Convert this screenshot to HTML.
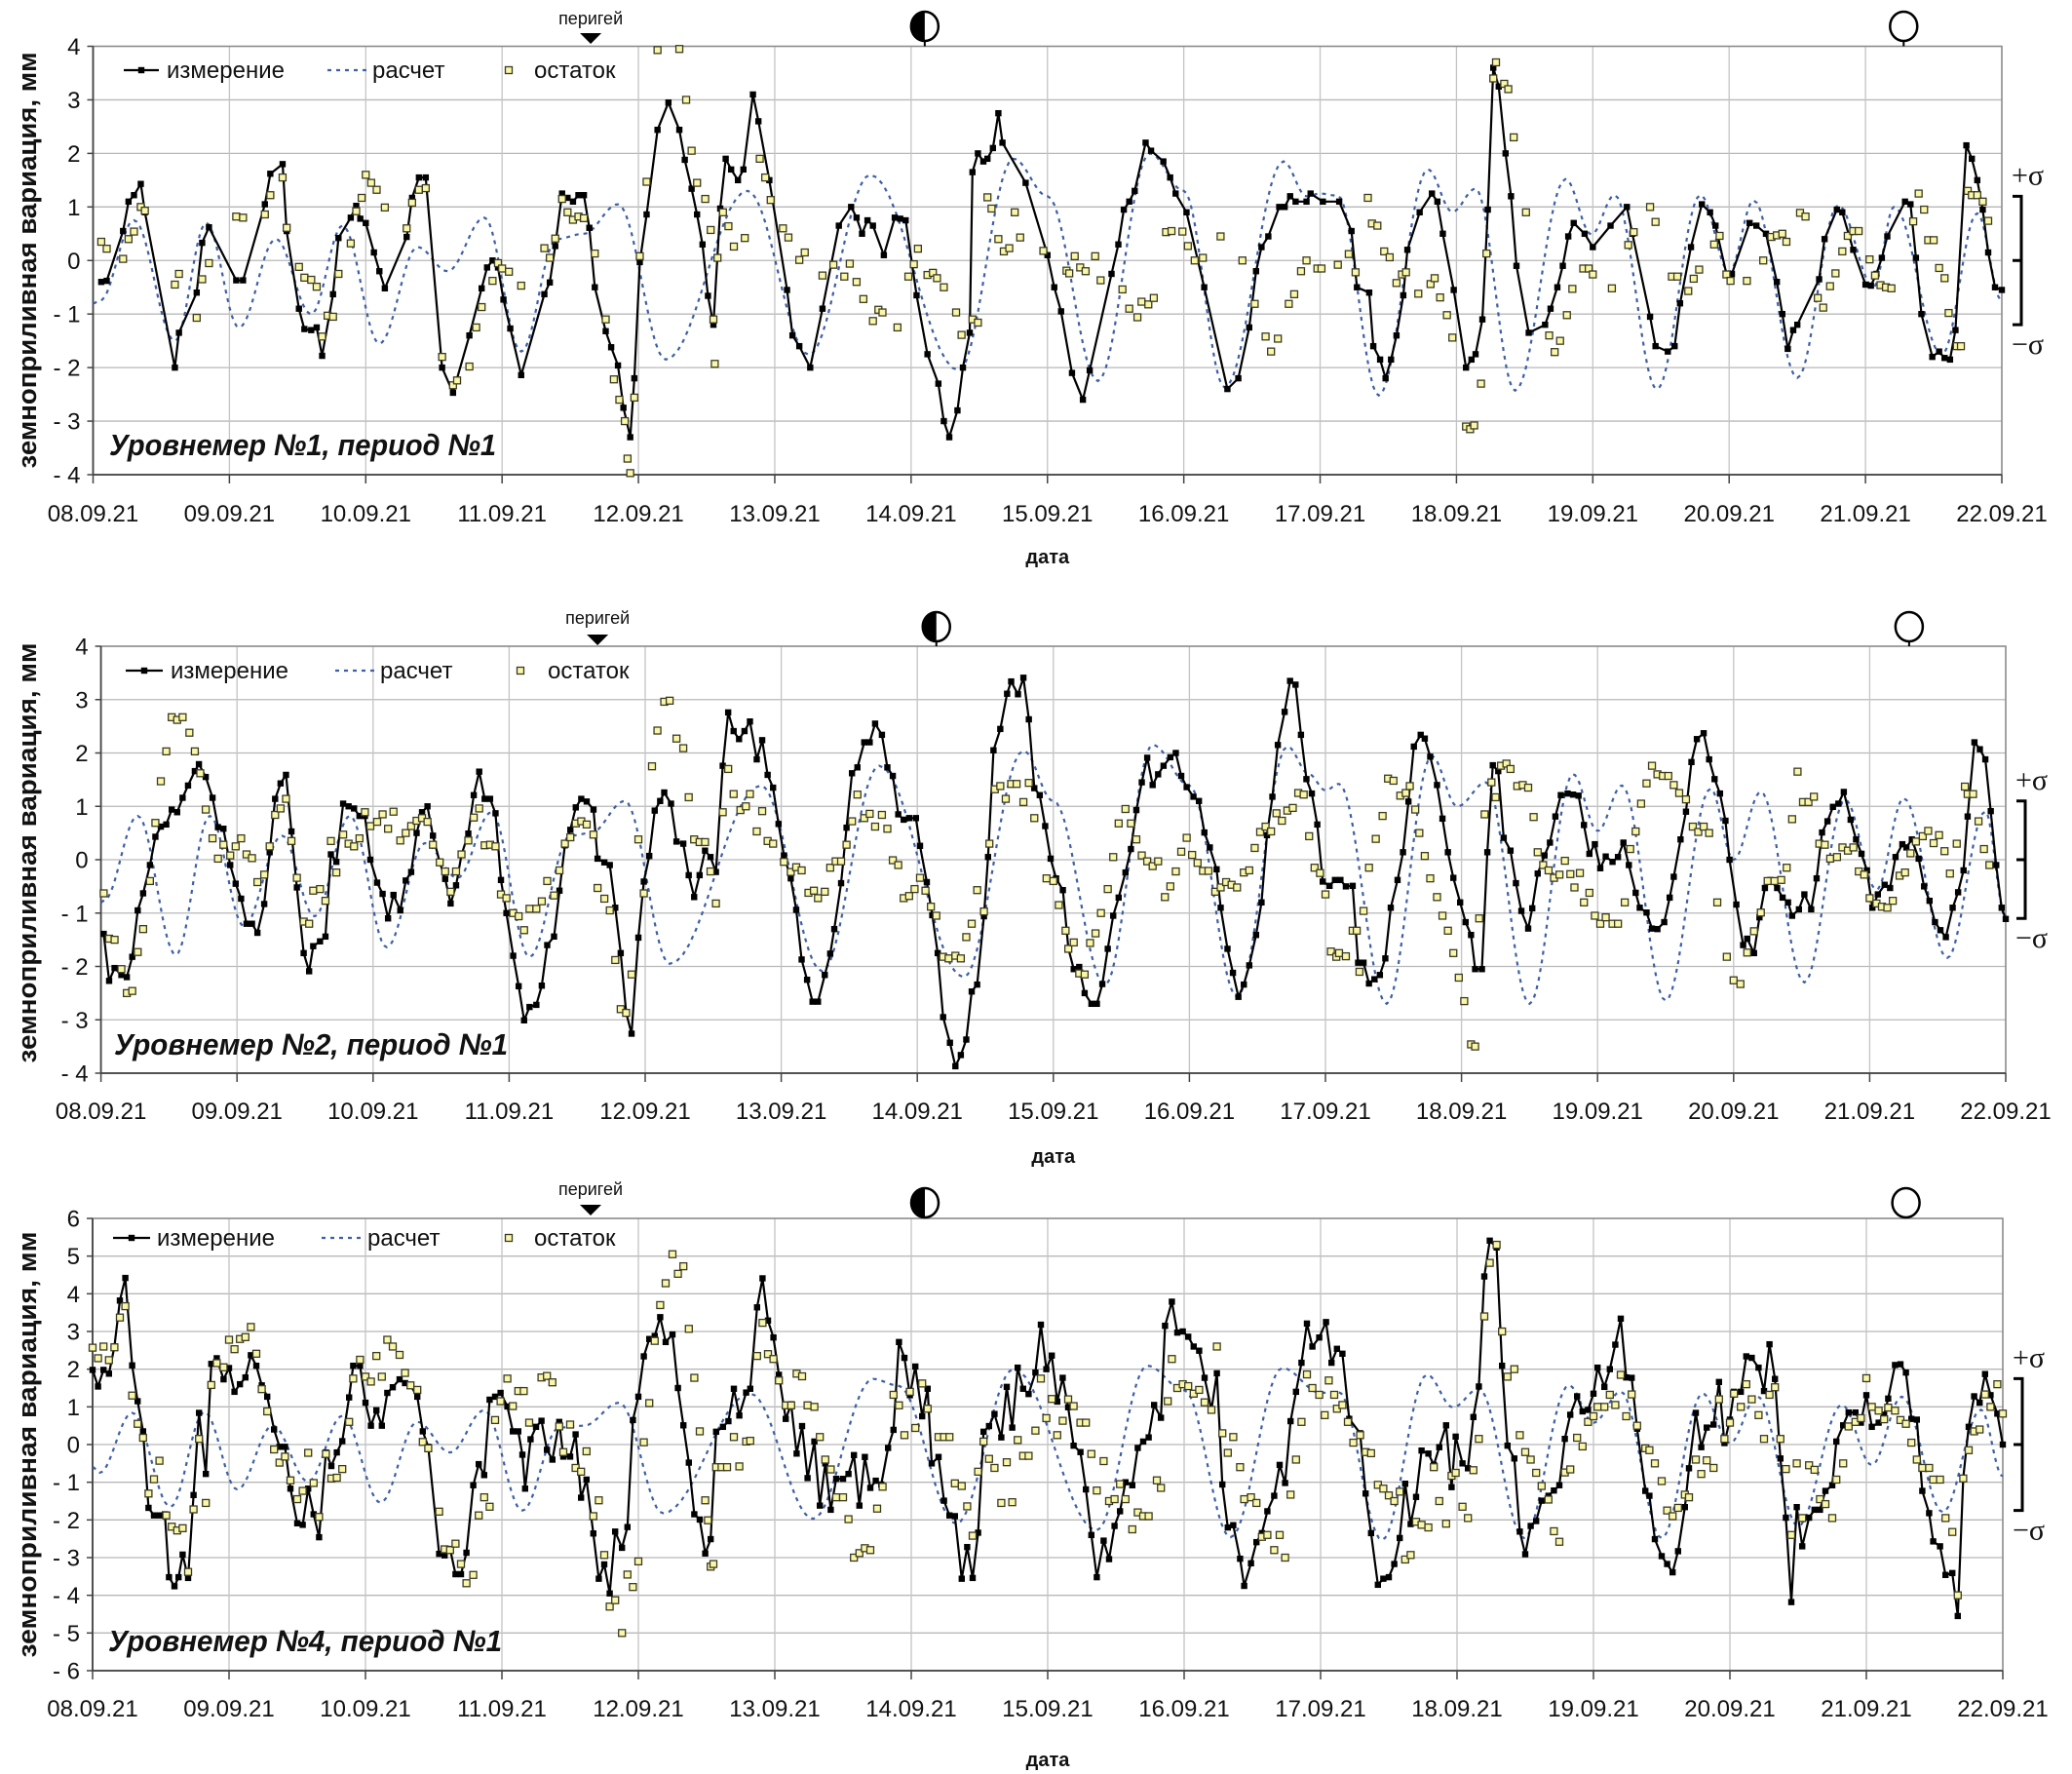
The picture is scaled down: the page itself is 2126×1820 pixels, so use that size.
<!DOCTYPE html>
<html><head><meta charset="utf-8"><style>
html,body{margin:0;padding:0;background:#fff;}
svg{display:block;}
text{font-family:"Liberation Sans","DejaVu Sans",sans-serif;}
</style></head>
<body>
<svg id="chart" xmlns="http://www.w3.org/2000/svg" width="2126" height="1820" viewBox="0 0 2126 1820">
<rect x="0" y="0" width="2126" height="1820" fill="#fff"/>
</svg>
<script>
// ===== DATA =====
const dateLabels = ["08.09.21","09.09.21","10.09.21","11.09.21","12.09.21","13.09.21","14.09.21","15.09.21","16.09.21","17.09.21","18.09.21","19.09.21","20.09.21","21.09.21","22.09.21"];
const panelTitles = ["Уровнемер №1, период №1","Уровнемер №2, период №1","Уровнемер №4, период №1"];
const legendLabels = ["измерение","расчет","остаток"];
const yTicks1 = [4,3,2,1,0,-1,-2,-3,-4];
const yTicks2 = [4,3,2,1,0,-1,-2,-3,-4];
const yTicks3 = [6,5,4,3,2,1,0,-1,-2,-3,-4,-5,-6];
const sigmaValues = [1.2,1.1,1.75];
const perigeeDay = [3.65,3.65,3.65];
const halfMoonDay = [6.1,6.14,6.1];
const fullMoonDay = [13.28,13.29,13.29];

const meas1 = [[0.06,-0.4],[0.1,-0.38],[0.22,0.55],[0.26,1.1],[0.3,1.22],[0.35,1.43],[0.38,0.9],[0.6,-2.0],[0.63,-1.35],[0.76,-0.6],[0.8,0.33],[0.85,0.62],[1.05,-0.37],[1.1,-0.37],[1.26,1.05],[1.3,1.62],[1.39,1.8],[1.42,0.55],[1.51,-0.9],[1.55,-1.28],[1.6,-1.3],[1.64,-1.25],[1.68,-1.78],[1.76,-0.63],[1.8,0.42],[1.89,0.8],[1.93,1.02],[1.96,0.78],[2.0,0.7],[2.06,0.15],[2.1,-0.2],[2.14,-0.52],[2.3,0.44],[2.34,1.17],[2.39,1.55],[2.44,1.55],[2.56,-2.0],[2.64,-2.47],[2.76,-1.4],[2.85,-0.52],[2.89,-0.13],[2.93,0],[2.97,-0.13],[3.01,-0.73],[3.06,-1.27],[3.14,-2.14],[3.31,-0.63],[3.35,-0.41],[3.39,0.27],[3.44,1.25],[3.48,1.17],[3.52,1.1],[3.56,1.22],[3.6,1.22],[3.64,0.61],[3.68,-0.5],[3.76,-1.32],[3.8,-1.62],[3.85,-1.96],[3.89,-2.75],[3.94,-3.3],[3.97,-2.2],[4.01,-0.03],[4.06,0.86],[4.14,2.44],[4.22,2.95],[4.3,2.44],[4.34,1.88],[4.39,1.34],[4.43,0.86],[4.47,0.3],[4.51,-0.66],[4.55,-1.2],[4.6,0.97],[4.64,1.9],[4.68,1.7],[4.73,1.5],[4.77,1.7],[4.84,3.1],[4.88,2.6],[4.96,1.5],[5.09,-0.55],[5.13,-1.4],[5.18,-1.6],[5.26,-2.0],[5.35,-0.9],[5.47,0.65],[5.56,1.0],[5.6,0.8],[5.64,0.5],[5.68,0.75],[5.72,0.65],[5.8,0.1],[5.88,0.8],[5.92,0.78],[5.96,0.75],[6.04,-0.65],[6.12,-1.75],[6.2,-2.3],[6.24,-3.0],[6.28,-3.3],[6.34,-2.8],[6.38,-2.0],[6.43,-1.35],[6.45,1.65],[6.49,2.0],[6.53,1.85],[6.56,1.9],[6.6,2.1],[6.64,2.75],[6.67,2.2],[6.84,1.45],[7.0,0.1],[7.05,-0.5],[7.1,-0.95],[7.18,-2.1],[7.26,-2.6],[7.31,-2.05],[7.47,-0.25],[7.52,0.3],[7.56,0.95],[7.6,1.1],[7.64,1.3],[7.72,2.2],[7.76,2.05],[7.85,1.85],[7.9,1.55],[7.94,1.25],[8.02,0.9],[8.15,-0.5],[8.32,-2.4],[8.4,-2.2],[8.48,-1.25],[8.53,-0.2],[8.57,0.25],[8.62,0.45],[8.7,1.0],[8.74,1.0],[8.78,1.2],[8.82,1.1],[8.9,1.1],[8.93,1.25],[9.02,1.1],[9.14,1.1],[9.23,0.55],[9.27,-0.5],[9.36,-0.6],[9.39,-1.6],[9.44,-1.85],[9.48,-2.2],[9.52,-1.85],[9.56,-1.4],[9.61,-0.65],[9.64,0.2],[9.73,0.9],[9.82,1.25],[9.86,1.1],[9.9,0.5],[9.98,-0.55],[10.07,-2.0],[10.11,-1.85],[10.14,-1.75],[10.19,-1.1],[10.23,0.95],[10.27,3.6],[10.31,3.25],[10.36,2.0],[10.4,1.2],[10.44,-0.1],[10.53,-1.35],[10.65,-1.2],[10.69,-0.9],[10.74,-0.5],[10.78,-0.1],[10.82,0.45],[10.86,0.7],[10.94,0.5],[11.0,0.25],[11.13,0.65],[11.25,1.0],[11.29,0.5],[11.42,-1.05],[11.46,-1.6],[11.55,-1.7],[11.6,-1.6],[11.64,-0.8],[11.72,0.25],[11.8,1.05],[11.86,0.9],[11.9,0.65],[11.98,-0.25],[12.02,-0.25],[12.15,0.7],[12.2,0.65],[12.27,0.5],[12.35,-0.4],[12.39,-1.0],[12.43,-1.65],[12.47,-1.3],[12.5,-1.2],[12.66,-0.35],[12.7,0.4],[12.79,0.95],[12.83,0.9],[12.91,0.2],[13.0,-0.45],[13.04,-0.47],[13.08,-0.25],[13.12,0.05],[13.16,0.45],[13.29,1.1],[13.33,1.05],[13.37,0.05],[13.41,-1.0],[13.49,-1.8],[13.54,-1.7],[13.58,-1.82],[13.62,-1.85],[13.66,-1.3],[13.74,2.15],[13.78,1.9],[13.82,1.5],[13.86,0.95],[13.9,0.15],[13.95,-0.5],[14.0,-0.55]];
const calc1 = [[0,-0.8],[0.05,-0.75],[0.3,0.75],[0.6,-1.5],[0.83,0.7],[1.07,-1.25],[1.34,0.4],[1.6,-1.0],[1.83,0.65],[2.1,-1.55],[2.38,0.25],[2.6,-0.2],[2.87,0.8],[3.14,-1.7],[3.4,0.4],[3.6,0.5],[3.85,1.05],[4.2,-1.85],[4.8,1.3],[5.25,-1.76],[5.7,1.6],[6.35,-2.05],[6.75,1.9],[7.0,1.2],[7.37,-2.25],[7.75,2.0],[8.0,1.3],[8.3,-2.37],[8.73,1.85],[8.9,1.2],[9.0,1.25],[9.13,1.21],[9.43,-2.52],[9.79,1.7],[9.97,0.91],[10.14,1.34],[10.43,-2.43],[10.8,1.52],[10.99,0.49],[11.16,1.22],[11.47,-2.4],[11.79,1.22],[12.0,-0.21],[12.18,1.12],[12.5,-2.19],[12.8,1.03],[13.06,-0.49],[13.21,1.0],[13.56,-1.76],[13.82,0.88],[14.0,-0.75]];
const resid1 = [[0.06,0.35],[0.1,0.22],[0.22,0.03],[0.26,0.4],[0.3,0.54],[0.35,1.0],[0.38,0.93],[0.6,-0.45],[0.63,-0.25],[0.76,-1.07],[0.8,-0.35],[0.85,-0.05],[1.05,0.82],[1.1,0.8],[1.26,0.86],[1.3,1.22],[1.39,1.55],[1.42,0.61],[1.51,-0.12],[1.55,-0.32],[1.6,-0.36],[1.64,-0.49],[1.68,-1.42],[1.72,-1.03],[1.76,-1.05],[1.8,-0.25],[1.89,0.32],[1.93,0.92],[1.97,1.17],[2.0,1.6],[2.04,1.45],[2.08,1.32],[2.14,0.99],[2.3,0.6],[2.34,1.08],[2.39,1.32],[2.44,1.35],[2.56,-1.8],[2.64,-2.33],[2.67,-2.24],[2.76,-1.98],[2.81,-1.25],[2.85,-0.87],[2.93,-0.38],[2.97,-0.05],[3.0,-0.15],[3.05,-0.21],[3.14,-0.47],[3.31,0.23],[3.35,0.05],[3.39,0.41],[3.44,1.15],[3.48,0.9],[3.52,0.76],[3.56,0.82],[3.6,0.79],[3.68,0.13],[3.76,-1.1],[3.82,-2.22],[3.86,-2.6],[3.9,-3.0],[3.92,-3.7],[3.94,-3.97],[3.97,-2.56],[4.01,0.08],[4.06,1.47],[4.14,3.93],[4.3,3.95],[4.35,3.0],[4.39,2.05],[4.43,1.45],[4.49,1.15],[4.53,0.57],[4.55,-1.1],[4.56,-1.93],[4.58,0.05],[4.62,0.9],[4.66,0.64],[4.7,0.26],[4.78,0.42],[4.89,1.9],[4.93,1.55],[4.97,1.13],[5.06,0.6],[5.1,0.43],[5.18,0.01],[5.22,0.15],[5.35,-0.28],[5.43,-0.08],[5.51,-0.3],[5.55,-0.06],[5.6,-0.4],[5.65,-0.72],[5.72,-1.13],[5.76,-0.92],[5.79,-0.97],[5.9,-1.25],[5.98,-0.3],[6.02,-0.07],[6.05,0.22],[6.12,-0.27],[6.16,-0.23],[6.19,-0.33],[6.24,-0.5],[6.33,-0.97],[6.37,-1.39],[6.45,-1.1],[6.49,-1.16],[6.56,1.18],[6.59,0.97],[6.64,0.4],[6.68,0.17],[6.72,0.23],[6.76,0.9],[6.8,0.43],[6.97,0.18],[7.14,-0.19],[7.16,-0.24],[7.2,0.08],[7.24,-0.13],[7.28,-0.2],[7.35,0.08],[7.39,-0.37],[7.55,-0.54],[7.6,-0.9],[7.66,-1.06],[7.69,-0.77],[7.74,-0.82],[7.78,-0.7],[7.87,0.53],[7.91,0.55],[7.99,0.54],[8.03,0.27],[8.08,0.0],[8.14,0.05],[8.27,0.45],[8.43,0.0],[8.52,-0.81],[8.6,-1.42],[8.64,-1.7],[8.69,-1.46],[8.77,-0.81],[8.81,-0.63],[8.86,-0.2],[8.9,0.0],[8.98,-0.15],[9.01,-0.15],[9.13,-0.08],[9.21,0.12],[9.26,-0.22],[9.35,1.17],[9.38,0.69],[9.42,0.65],[9.47,0.17],[9.51,0.06],[9.56,-0.42],[9.6,-0.26],[9.63,-0.22],[9.72,-0.62],[9.81,-0.44],[9.84,-0.33],[9.88,-0.69],[9.93,-1.02],[9.97,-1.44],[10.07,-3.1],[10.1,-3.15],[10.13,-3.08],[10.18,-2.3],[10.22,0.13],[10.27,3.4],[10.29,3.7],[10.35,3.3],[10.38,3.2],[10.42,2.3],[10.51,0.9],[10.68,-1.4],[10.72,-1.71],[10.76,-1.5],[10.81,-1.02],[10.85,-0.53],[10.93,-0.15],[10.97,-0.15],[11.0,-0.26],[11.14,-0.52],[11.26,0.29],[11.3,0.53],[11.42,1.0],[11.46,0.72],[11.58,-0.3],[11.62,-0.3],[11.7,-0.57],[11.74,-0.34],[11.78,-0.17],[11.89,0.3],[11.93,0.46],[11.98,-0.26],[12.01,-0.38],[12.13,-0.38],[12.25,0.0],[12.31,0.44],[12.35,0.47],[12.39,0.5],[12.42,0.35],[12.52,0.89],[12.56,0.82],[12.65,-0.7],[12.69,-0.88],[12.74,-0.48],[12.78,-0.24],[12.83,0.17],[12.87,0.46],[12.91,0.55],[12.95,0.55],[13.03,0.02],[13.07,-0.28],[13.11,-0.46],[13.15,-0.5],[13.19,-0.52],[13.35,0.73],[13.39,1.25],[13.43,0.95],[13.46,0.38],[13.5,0.38],[13.54,-0.14],[13.58,-0.33],[13.61,-0.98],[13.67,-1.6],[13.7,-1.6],[13.75,1.3],[13.78,1.22],[13.82,1.22],[13.86,1.1],[13.9,0.74]];

const meas2 = [[0.02,-1.39],[0.06,-2.27],[0.1,-2.03],[0.15,-2.16],[0.19,-2.2],[0.23,-1.82],[0.27,-0.95],[0.31,-0.63],[0.36,-0.1],[0.4,0.43],[0.44,0.62],[0.48,0.66],[0.52,0.94],[0.56,0.89],[0.6,1.16],[0.64,1.39],[0.69,1.66],[0.72,1.79],[0.77,1.55],[0.82,1.16],[0.86,0.61],[0.9,0.58],[0.95,-0.1],[0.99,-0.45],[1.03,-0.73],[1.07,-1.2],[1.11,-1.2],[1.15,-1.37],[1.2,-0.83],[1.24,0.14],[1.28,1.14],[1.32,1.43],[1.36,1.59],[1.4,0.53],[1.44,-0.52],[1.49,-1.75],[1.53,-2.09],[1.56,-1.62],[1.61,-1.53],[1.65,-1.44],[1.69,0.1],[1.73,-0.04],[1.78,1.05],[1.82,1.0],[1.86,0.96],[1.9,0.82],[1.94,0.82],[1.98,0],[2.03,-0.43],[2.07,-0.64],[2.11,-1.1],[2.15,-0.66],[2.2,-0.95],[2.24,-0.39],[2.28,-0.23],[2.32,0.5],[2.36,0.89],[2.4,1.0],[2.44,0.45],[2.49,-0.05],[2.53,-0.36],[2.57,-0.82],[2.61,-0.48],[2.65,0.09],[2.7,0.49],[2.74,1.21],[2.78,1.65],[2.82,1.14],[2.86,1.14],[2.9,0.87],[2.94,-0.38],[2.98,-1.0],[3.03,-1.8],[3.07,-2.37],[3.11,-3.01],[3.15,-2.76],[3.2,-2.72],[3.24,-2.36],[3.28,-1.6],[3.33,-1.44],[3.37,-0.58],[3.41,0.27],[3.45,0.56],[3.49,0.98],[3.53,1.14],[3.57,1.09],[3.62,0.94],[3.65,0.02],[3.7,-0.05],[3.74,-0.1],[3.78,-0.9],[3.82,-1.75],[3.86,-2.87],[3.9,-3.26],[3.95,-1.46],[3.99,-0.41],[4.03,0.07],[4.07,0.92],[4.11,1.1],[4.14,1.26],[4.19,1.05],[4.23,0.34],[4.28,0.3],[4.32,-0.29],[4.36,-0.7],[4.4,-0.29],[4.44,0.17],[4.48,0.05],[4.52,-0.23],[4.57,1.76],[4.61,2.76],[4.65,2.41],[4.69,2.26],[4.73,2.41],[4.77,2.59],[4.82,1.88],[4.86,2.24],[4.9,1.59],[4.94,1.35],[4.98,0.67],[5.02,0.08],[5.07,-0.35],[5.11,-0.94],[5.15,-1.87],[5.19,-2.25],[5.23,-2.66],[5.27,-2.66],[5.32,-2.16],[5.36,-1.76],[5.39,-1.3],[5.44,-0.44],[5.48,0.6],[5.52,1.62],[5.56,1.73],[5.61,2.2],[5.65,2.2],[5.69,2.55],[5.74,2.34],[5.78,1.73],[5.82,1.57],[5.86,0.85],[5.9,0.75],[5.94,0.78],[5.99,0.78],[6.02,0.26],[6.07,-0.42],[6.11,-1.04],[6.15,-1.75],[6.19,-2.95],[6.24,-3.43],[6.28,-3.87],[6.32,-3.66],[6.36,-3.37],[6.4,-2.47],[6.44,-2.34],[6.49,-1.06],[6.52,0.05],[6.56,2.05],[6.61,2.45],[6.66,3.11],[6.69,3.34],[6.74,3.1],[6.78,3.41],[6.82,2.63],[6.86,1.34],[6.9,1.21],[6.94,0.63],[6.98,0.02],[7.02,-0.35],[7.07,-0.57],[7.11,-1.66],[7.15,-2.05],[7.19,-2.01],[7.23,-2.5],[7.28,-2.7],[7.32,-2.7],[7.36,-2.33],[7.4,-1.67],[7.44,-1.05],[7.48,-0.71],[7.53,-0.24],[7.57,0.2],[7.61,0.93],[7.65,1.45],[7.69,1.91],[7.73,1.4],[7.77,1.6],[7.81,1.76],[7.86,1.92],[7.9,2.0],[7.94,1.57],[7.98,1.36],[8.03,1.18],[8.07,1.1],[8.11,0.51],[8.15,0.23],[8.2,-0.18],[8.23,-0.9],[8.28,-1.67],[8.32,-2.12],[8.36,-2.57],[8.4,-2.34],[8.44,-1.98],[8.49,-1.41],[8.53,-0.8],[8.57,0.46],[8.61,1.18],[8.65,2.15],[8.7,2.77],[8.74,3.35],[8.78,3.28],[8.82,2.34],[8.86,1.51],[8.9,1.24],[8.94,0.66],[8.98,-0.41],[9.03,-0.49],[9.07,-0.38],[9.11,-0.38],[9.15,-0.5],[9.2,-0.49],[9.24,-1.93],[9.28,-1.93],[9.32,-2.32],[9.36,-2.24],[9.4,-2.16],[9.44,-1.85],[9.48,-0.9],[9.53,-0.38],[9.57,0.14],[9.61,1.09],[9.65,2.12],[9.7,2.34],[9.73,2.27],[9.77,1.93],[9.82,1.4],[9.86,0.77],[9.9,0.14],[9.94,-0.34],[9.99,-0.8],[10.03,-1.17],[10.07,-1.41],[10.1,-2.05],[10.15,-2.05],[10.19,0.14],[10.23,1.77],[10.27,1.66],[10.31,0.41],[10.36,0.17],[10.4,-0.44],[10.44,-0.96],[10.49,-1.29],[10.52,-0.91],[10.56,-0.26],[10.61,0.08],[10.65,0.32],[10.69,0.81],[10.73,1.21],[10.78,1.24],[10.82,1.22],[10.86,1.2],[10.9,0.65],[10.94,0.11],[10.98,0.29],[11.02,-0.16],[11.06,0.06],[11.11,-0.04],[11.15,0.05],[11.19,0.32],[11.23,-0.1],[11.28,-0.62],[11.31,-0.9],[11.36,-0.99],[11.4,-1.29],[11.44,-1.3],[11.49,-1.17],[11.53,-0.71],[11.56,-0.32],[11.61,0.38],[11.65,0.9],[11.69,1.83],[11.73,2.26],[11.78,2.37],[11.82,1.88],[11.86,1.51],[11.9,1.24],[11.94,0.73],[11.97,0],[12.02,-0.84],[12.07,-1.6],[12.1,-1.48],[12.15,-1.75],[12.19,-1.08],[12.23,-0.53],[12.27,-0.38],[12.32,-0.53],[12.36,-0.71],[12.4,-0.8],[12.43,-1.05],[12.48,-0.93],[12.52,-0.65],[12.57,-0.93],[12.61,-0.35],[12.65,0.51],[12.69,0.72],[12.73,0.99],[12.77,1.05],[12.81,1.27],[12.86,0.75],[12.9,0.38],[12.94,0.11],[12.98,-0.2],[13.02,-0.9],[13.06,-0.65],[13.11,-0.47],[13.15,-0.53],[13.19,0.05],[13.24,0.29],[13.27,0.23],[13.31,0.38],[13.36,0.02],[13.4,-0.5],[13.44,-0.77],[13.48,-1.17],[13.52,-1.32],[13.56,-1.45],[13.61,-0.9],[13.65,-0.61],[13.69,-0.2],[13.72,0.81],[13.77,2.2],[13.81,2.07],[13.85,1.88],[13.89,0.91],[13.93,-0.1],[13.97,-0.9],[14.0,-1.11]];
const calc2 = [[0,-0.8],[0.02,-0.77],[0.27,0.82],[0.55,-1.78],[0.8,0.82],[1.05,-1.24],[1.33,0.45],[1.57,-1.06],[1.83,0.82],[2.1,-1.64],[2.38,0.31],[2.62,-0.34],[2.87,0.89],[3.15,-1.82],[3.45,0.45],[3.6,0.5],[3.85,1.1],[4.18,-1.95],[4.85,1.39],[5.3,-2.09],[5.72,1.76],[6.34,-2.2],[6.78,2.04],[7.0,1.1],[7.38,-2.34],[7.73,2.15],[8.0,1.39],[8.35,-2.57],[8.72,2.12],[8.88,1.6],[9.0,1.3],[9.1,1.42],[9.45,-2.7],[9.78,1.94],[9.97,1.0],[10.18,1.45],[10.5,-2.7],[10.82,1.6],[11.0,0.54],[11.18,1.39],[11.5,-2.64],[11.83,1.33],[12.0,0],[12.2,1.27],[12.52,-2.3],[12.82,1.12],[13.05,-0.56],[13.25,1.15],[13.57,-1.84],[13.85,0.9],[14.0,-1.08]];
const resid2 = [[0.02,-0.63],[0.06,-1.48],[0.1,-1.5],[0.15,-2.05],[0.19,-2.5],[0.23,-2.46],[0.27,-1.73],[0.31,-1.3],[0.36,-0.4],[0.4,0.69],[0.44,1.47],[0.48,2.03],[0.52,2.67],[0.56,2.62],[0.6,2.67],[0.65,2.38],[0.69,2.03],[0.73,1.62],[0.77,0.94],[0.82,0.4],[0.86,0.02],[0.9,0.28],[0.95,0.08],[0.99,0.25],[1.03,0.4],[1.07,0.1],[1.11,0.03],[1.15,-0.42],[1.2,-0.28],[1.24,0.25],[1.28,0.84],[1.32,0.96],[1.36,1.14],[1.4,0.35],[1.44,-0.34],[1.49,-1.16],[1.53,-1.2],[1.56,-0.58],[1.61,-0.55],[1.65,-0.77],[1.69,0.35],[1.73,-0.24],[1.78,0.47],[1.82,0.3],[1.86,0.25],[1.9,0.4],[1.94,0.89],[1.98,0.63],[2.03,0.71],[2.07,0.85],[2.11,0.58],[2.15,0.9],[2.2,0.36],[2.24,0.5],[2.28,0.63],[2.32,0.73],[2.36,0.78],[2.4,0.71],[2.44,0.28],[2.49,-0.05],[2.53,-0.22],[2.57,-0.6],[2.61,-0.22],[2.65,0.1],[2.7,0.36],[2.74,0.79],[2.78,0.96],[2.82,0.27],[2.86,0.28],[2.9,0.25],[2.94,-0.65],[2.98,-0.72],[3.03,-1.0],[3.07,-1.06],[3.11,-1.32],[3.15,-0.92],[3.2,-0.92],[3.24,-0.78],[3.28,-0.4],[3.33,-0.67],[3.37,-0.2],[3.41,0.3],[3.45,0.42],[3.49,0.68],[3.53,0.72],[3.57,0.66],[3.62,0.47],[3.65,-0.53],[3.7,-0.73],[3.74,-0.95],[3.78,-1.88],[3.82,-2.8],[3.86,-2.87],[3.9,-2.15],[3.95,0.38],[3.99,-0.63],[4.05,1.75],[4.09,2.42],[4.14,2.96],[4.18,2.98],[4.23,2.27],[4.28,2.09],[4.32,1.17],[4.36,0.38],[4.4,0.33],[4.44,0.33],[4.48,-0.22],[4.52,-0.82],[4.57,0.89],[4.61,1.7],[4.65,1.23],[4.7,0.93],[4.74,1.0],[4.77,1.23],[4.82,0.53],[4.86,0.91],[4.9,0.35],[4.94,0.3],[5.02,-0.04],[5.07,-0.23],[5.11,-0.14],[5.15,-0.2],[5.2,-0.62],[5.24,-0.58],[5.27,-0.72],[5.32,-0.6],[5.36,-0.15],[5.4,-0.03],[5.44,-0.03],[5.48,0.28],[5.52,0.72],[5.56,1.22],[5.61,0.78],[5.65,0.86],[5.69,0.62],[5.74,0.84],[5.78,0.58],[5.82,-0.01],[5.86,-0.1],[5.9,-0.72],[5.94,-0.68],[5.98,-0.55],[6.02,-0.34],[6.06,-0.58],[6.1,-0.88],[6.14,-1.05],[6.19,-1.82],[6.23,-1.85],[6.28,-1.8],[6.32,-1.85],[6.36,-1.45],[6.4,-1.2],[6.44,-0.57],[6.49,-0.97],[6.53,0.3],[6.57,1.32],[6.61,1.38],[6.65,1.14],[6.69,1.42],[6.73,1.42],[6.78,1.08],[6.82,1.44],[6.86,0.78],[6.95,-0.35],[7.0,-0.4],[7.04,-0.85],[7.09,-1.33],[7.11,-1.67],[7.15,-1.55],[7.19,-2.13],[7.23,-2.15],[7.27,-1.56],[7.31,-1.38],[7.35,-1.0],[7.4,-0.55],[7.44,0.05],[7.48,0.68],[7.53,0.95],[7.57,0.68],[7.61,0.38],[7.65,0.08],[7.69,-0.03],[7.73,-0.12],[7.77,-0.03],[7.82,-0.7],[7.86,-0.5],[7.9,-0.22],[7.94,0.15],[7.98,0.41],[8.02,0.09],[8.06,-0.06],[8.1,-0.21],[8.14,-0.21],[8.19,-0.6],[8.23,-0.52],[8.27,-0.42],[8.31,-0.47],[8.35,-0.52],[8.4,-0.24],[8.44,-0.2],[8.48,0.22],[8.52,0.52],[8.56,0.62],[8.6,0.53],[8.64,0.87],[8.68,0.73],[8.72,0.92],[8.76,0.97],[8.8,1.25],[8.84,1.22],[8.88,0.44],[8.92,-0.15],[8.96,-0.25],[9.0,-0.65],[9.04,-1.72],[9.08,-1.82],[9.1,-1.75],[9.15,-1.81],[9.2,-1.33],[9.23,-1.33],[9.25,-2.1],[9.28,-0.96],[9.32,-0.15],[9.37,0.39],[9.42,0.82],[9.46,1.52],[9.5,1.48],[9.55,1.2],[9.59,1.25],[9.62,1.38],[9.66,0.94],[9.69,0.5],[9.73,0.07],[9.77,-0.35],[9.82,-0.7],[9.86,-1.05],[9.9,-1.33],[9.94,-1.75],[9.98,-2.21],[10.02,-2.65],[10.07,-3.46],[10.1,-3.5],[10.13,-1.1],[10.17,0.85],[10.22,1.45],[10.25,1.17],[10.29,1.76],[10.33,1.8],[10.36,1.7],[10.41,1.38],[10.45,1.4],[10.49,1.35],[10.53,0.8],[10.56,0.14],[10.6,-0.1],[10.64,-0.2],[10.68,-0.34],[10.72,-0.28],[10.76,-0.02],[10.8,-0.27],[10.83,-0.52],[10.87,-0.25],[10.9,-0.8],[10.94,-0.62],[10.98,-1.05],[11.02,-1.2],[11.06,-1.08],[11.11,-1.2],[11.15,-1.2],[11.2,-0.8],[11.24,0.2],[11.28,0.53],[11.32,1.05],[11.36,1.43],[11.4,1.76],[11.44,1.6],[11.48,1.57],[11.52,1.57],[11.56,1.4],[11.6,1.25],[11.65,1.13],[11.7,0.62],[11.74,0.52],[11.78,0.62],[11.82,0.5],[11.88,-0.8],[11.95,-1.82],[12.0,-2.26],[12.05,-2.33],[12.1,-1.74],[12.15,-1.34],[12.2,-0.99],[12.25,-0.4],[12.3,-0.4],[12.35,-0.38],[12.39,-0.15],[12.43,0.76],[12.47,1.65],[12.51,1.08],[12.55,1.08],[12.59,1.18],[12.63,0.3],[12.67,0.28],[12.71,0.02],[12.76,0.05],[12.8,0.23],[12.84,0.17],[12.88,0.23],[12.92,-0.22],[12.96,-0.28],[13.0,-0.72],[13.05,-0.82],[13.09,-0.88],[13.13,-0.9],[13.17,-0.77],[13.22,-0.3],[13.26,-0.24],[13.3,0.12],[13.34,0.34],[13.39,0.44],[13.43,0.54],[13.47,0.31],[13.51,0.46],[13.55,0.16],[13.59,-0.26],[13.64,0.3],[13.7,1.37],[13.72,1.23],[13.76,1.23],[13.8,0.72],[13.84,0.2],[13.88,-0.1]];

const meas3 = [[0,1.98],[0.04,1.54],[0.08,1.98],[0.12,1.88],[0.16,2.6],[0.2,3.82],[0.24,4.42],[0.29,2.1],[0.33,1.15],[0.37,0.35],[0.41,-1.68],[0.45,-1.88],[0.49,-1.88],[0.53,-1.85],[0.56,-3.52],[0.6,-3.76],[0.63,-3.52],[0.66,-2.92],[0.7,-3.54],[0.74,-1.34],[0.78,0.84],[0.83,-0.78],[0.87,2.14],[0.91,2.29],[0.96,1.73],[1.0,2.03],[1.04,1.4],[1.08,1.6],[1.12,1.78],[1.16,2.37],[1.2,2.09],[1.24,1.57],[1.28,1.27],[1.33,0.4],[1.37,-0.06],[1.41,-0.06],[1.45,-1.17],[1.5,-2.09],[1.54,-2.13],[1.58,-1.17],[1.62,-1.85],[1.66,-2.46],[1.71,-0.21],[1.75,-0.57],[1.79,-0.21],[1.83,0.09],[1.88,1.25],[1.91,2.09],[1.96,2.09],[2.0,1.11],[2.04,0.5],[2.08,0.91],[2.12,0.5],[2.16,1.37],[2.2,1.52],[2.25,1.73],[2.29,1.63],[2.33,1.57],[2.38,1.27],[2.42,0.35],[2.46,-0.06],[2.54,-2.9],[2.58,-2.94],[2.62,-2.77],[2.66,-3.44],[2.7,-3.44],[2.74,-2.87],[2.79,-1.08],[2.83,-0.52],[2.87,-0.81],[2.91,1.19],[2.95,1.27],[2.99,1.37],[3.04,1.01],[3.08,0.35],[3.12,0.35],[3.15,-0.27],[3.17,-1.17],[3.21,0.14],[3.25,0.47],[3.29,0.63],[3.33,-0.14],[3.37,-0.4],[3.42,0.6],[3.45,-0.32],[3.5,-0.32],[3.54,0.27],[3.58,-1.41],[3.62,-0.93],[3.67,-2.36],[3.71,-3.56],[3.75,-3.18],[3.79,-3.95],[3.83,-2.31],[3.88,-2.74],[3.92,-2.19],[3.96,0.65],[4.0,1.27],[4.04,2.34],[4.08,2.8],[4.12,2.88],[4.16,3.38],[4.2,2.72],[4.25,2.92],[4.29,1.5],[4.33,0.51],[4.37,-0.48],[4.41,-1.85],[4.45,-1.99],[4.49,-2.89],[4.53,-2.51],[4.57,0.34],[4.62,0.47],[4.66,0.62],[4.7,1.48],[4.74,0.77],[4.79,1.38],[4.82,1.48],[4.87,3.64],[4.91,4.41],[4.95,3.29],[4.99,2.84],[5.03,1.85],[5.08,0.68],[5.12,1.07],[5.16,-0.24],[5.2,0.49],[5.24,-0.89],[5.29,0.08],[5.33,-1.62],[5.37,-0.5],[5.41,-1.73],[5.45,-0.91],[5.5,-0.91],[5.54,-0.78],[5.58,-0.28],[5.62,-1.62],[5.66,-0.33],[5.7,-1.15],[5.74,-0.96],[5.78,-1.06],[5.83,-0.09],[5.87,0.39],[5.91,2.72],[5.95,2.3],[5.99,1.31],[6.03,2.07],[6.08,0.75],[6.12,1.48],[6.15,-0.5],[6.2,-0.33],[6.24,-1.49],[6.28,-1.88],[6.32,-1.9],[6.37,-3.56],[6.41,-2.72],[6.45,-3.54],[6.49,-2.34],[6.53,0.34],[6.57,0.49],[6.61,0.81],[6.66,0.19],[6.7,1.53],[6.74,0.45],[6.78,2.04],[6.82,1.48],[6.86,1.34],[6.91,1.91],[6.95,3.18],[6.99,2.0],[7.03,2.36],[7.07,1.14],[7.11,1.77],[7.15,0.99],[7.19,-0.03],[7.24,-0.2],[7.28,-1.19],[7.32,-2.4],[7.36,-3.52],[7.41,-2.55],[7.45,-3.04],[7.49,-2.16],[7.53,-1.77],[7.57,-1.0],[7.62,-1.08],[7.66,-0.09],[7.7,0.08],[7.74,0.19],[7.78,1.05],[7.83,0.71],[7.86,3.15],[7.91,3.79],[7.95,2.97],[7.99,3.0],[8.03,2.86],[8.07,2.6],[8.11,2.49],[8.15,1.77],[8.2,0.92],[8.24,1.89],[8.28,-1.06],[8.32,-2.2],[8.36,-2.14],[8.41,-3.03],[8.44,-3.75],[8.49,-3.15],[8.53,-2.59],[8.57,-2.35],[8.61,-1.77],[8.66,-1.36],[8.7,-0.54],[8.74,-1.02],[8.78,0.62],[8.82,1.4],[8.86,2.17],[8.9,3.21],[8.94,2.6],[8.99,2.84],[9.04,3.25],[9.08,2.17],[9.12,2.54],[9.16,2.41],[9.21,0.68],[9.29,0.3],[9.33,-1.3],[9.37,-2.35],[9.42,-3.72],[9.46,-3.56],[9.5,-3.52],[9.54,-3.17],[9.58,-2.48],[9.62,-1.04],[9.66,-2.11],[9.7,-1.39],[9.74,-0.16],[9.79,-0.24],[9.83,-0.54],[9.87,-0.07],[9.92,0.51],[9.96,-1.13],[9.99,0.21],[10.04,-0.5],[10.08,-0.63],[10.12,0.73],[10.16,1.54],[10.2,4.46],[10.24,5.41],[10.29,5.23],[10.33,2.09],[10.37,-0.03],[10.42,-0.37],[10.46,-2.31],[10.5,-2.91],[10.54,-2.16],[10.58,-2.03],[10.62,-1.49],[10.67,-1.36],[10.71,-1.22],[10.75,-1.08],[10.79,0.15],[10.83,0.79],[10.88,1.28],[10.92,0.88],[10.96,0.92],[11.0,1.35],[11.03,2.04],[11.08,1.53],[11.12,2.0],[11.16,2.65],[11.2,3.34],[11.24,1.78],[11.28,1.77],[11.32,0.42],[11.38,-1.23],[11.41,-1.36],[11.45,-2.51],[11.5,-2.96],[11.54,-3.17],[11.58,-3.39],[11.62,-2.83],[11.67,-1.66],[11.7,-0.63],[11.75,0.84],[11.79,-0.07],[11.83,0.45],[11.88,0.53],[11.92,1.66],[11.96,0.04],[12.0,0.66],[12.03,1.4],[12.08,1.4],[12.12,2.34],[12.16,2.3],[12.21,2.04],[12.25,1.42],[12.29,2.66],[12.33,1.74],[12.37,-0.37],[12.41,-1.94],[12.45,-4.18],[12.49,-1.66],[12.53,-2.7],[12.58,-1.94],[12.62,-1.73],[12.66,-1.73],[12.7,-1.23],[12.75,-1.08],[12.78,0.08],[12.83,0.51],[12.87,0.85],[12.92,0.85],[12.96,0.58],[13.0,1.31],[13.04,0.47],[13.09,0.58],[13.13,0.79],[13.16,1.22],[13.21,2.11],[13.25,2.13],[13.29,1.91],[13.33,0.68],[13.37,0.66],[13.41,-1.23],[13.46,-1.82],[13.49,-2.57],[13.54,-2.7],[13.58,-3.46],[13.63,-3.41],[13.67,-4.55],[13.71,-0.89],[13.75,0.47],[13.79,1.28],[13.83,1.11],[13.87,1.87],[13.91,1.31],[13.96,0.82],[14.0,0]];
const calc3 = [[0,-0.6],[0.05,-0.75],[0.29,0.84],[0.57,-1.65],[0.82,0.86],[1.06,-1.19],[1.32,0.5],[1.58,-0.98],[1.83,0.76],[2.11,-1.54],[2.38,0.6],[2.62,-0.21],[2.87,0.91],[3.15,-1.75],[3.42,0.45],[3.6,0.5],[3.86,1.11],[4.18,-1.82],[4.82,1.35],[5.28,-1.97],[5.72,1.74],[5.9,1.57],[6.33,-2.1],[6.75,2.0],[7.36,-2.27],[7.73,2.09],[8.0,1.44],[8.34,-2.46],[8.72,2.03],[9.0,1.37],[9.13,1.4],[9.45,-2.53],[9.78,1.85],[9.97,0.99],[10.16,1.48],[10.49,-2.48],[10.82,1.57],[11.0,0.58],[11.2,1.4],[11.5,-2.48],[11.8,1.35],[12.0,0.04],[12.2,1.28],[12.5,-2.16],[12.82,1.05],[13.04,-0.54],[13.26,1.27],[13.56,-1.79],[13.84,0.92],[14.0,-0.84]];
const resid3 = [[0,2.57],[0.04,2.29],[0.08,2.6],[0.12,2.24],[0.16,2.58],[0.2,3.37],[0.24,3.67],[0.29,1.3],[0.33,0.55],[0.37,0.18],[0.41,-1.3],[0.45,-0.92],[0.49,-0.43],[0.54,-1.88],[0.58,-2.18],[0.62,-2.28],[0.66,-2.22],[0.7,-3.38],[0.74,-1.72],[0.78,0.15],[0.83,-1.55],[0.87,1.58],[0.91,2.16],[0.96,2.05],[1.0,2.78],[1.04,2.53],[1.08,2.8],[1.12,2.85],[1.16,3.12],[1.2,2.41],[1.24,1.47],[1.28,0.88],[1.33,-0.13],[1.37,-0.48],[1.41,-0.32],[1.45,-0.95],[1.5,-1.45],[1.54,-1.23],[1.58,-0.22],[1.62,-1.02],[1.66,-1.92],[1.71,-0.25],[1.75,-0.9],[1.79,-0.88],[1.83,-0.65],[1.88,0.6],[1.91,1.75],[1.96,2.25],[2.0,1.8],[2.04,1.67],[2.08,2.35],[2.12,1.8],[2.16,2.78],[2.2,2.6],[2.25,2.38],[2.29,1.9],[2.33,1.57],[2.38,1.45],[2.42,0.07],[2.46,-0.1],[2.54,-1.78],[2.58,-2.78],[2.62,-2.8],[2.66,-2.63],[2.7,-3.17],[2.74,-3.68],[2.79,-3.46],[2.83,-1.88],[2.87,-1.4],[2.91,-1.65],[2.95,0.65],[2.99,1.15],[3.04,1.75],[3.08,1.02],[3.12,1.42],[3.16,1.42],[3.2,0.58],[3.29,1.78],[3.33,1.82],[3.37,1.65],[3.42,0.48],[3.45,-0.2],[3.5,0.53],[3.54,-0.62],[3.58,-0.72],[3.62,-0.18],[3.67,-1.9],[3.71,-1.48],[3.75,-2.93],[3.79,-4.3],[3.83,-4.13],[3.88,-5.0],[3.92,-3.45],[3.96,-3.78],[4.0,-3.1],[4.04,0.06],[4.08,1.1],[4.12,2.75],[4.16,3.7],[4.2,4.28],[4.25,5.05],[4.29,4.53],[4.33,4.73],[4.37,3.07],[4.41,1.77],[4.45,0.35],[4.49,-1.48],[4.51,-2.01],[4.53,-3.24],[4.55,-3.17],[4.57,-0.6],[4.61,-0.6],[4.65,-0.6],[4.7,0.2],[4.74,-0.58],[4.79,0.08],[4.82,0.1],[4.87,2.35],[4.91,3.23],[4.95,2.4],[4.99,2.27],[5.03,1.7],[5.08,1.04],[5.12,1.04],[5.16,1.88],[5.2,1.81],[5.24,1.04],[5.29,1.0],[5.33,0.2],[5.37,-0.4],[5.41,-0.66],[5.45,-1.4],[5.5,-1.4],[5.54,-1.98],[5.58,-3.0],[5.62,-2.88],[5.66,-2.75],[5.7,-2.8],[5.75,-1.7],[5.79,-1.12],[5.87,1.32],[5.91,1.04],[5.95,0.25],[5.99,1.4],[6.03,0.44],[6.08,1.62],[6.12,0.95],[6.2,0.2],[6.24,0.2],[6.28,0.2],[6.32,-1.03],[6.37,-1.1],[6.41,-1.64],[6.45,-2.42],[6.49,-0.72],[6.53,0.08],[6.57,-0.38],[6.61,-0.62],[6.66,-1.55],[6.7,-0.47],[6.74,-1.53],[6.78,0.12],[6.82,-0.3],[6.86,-0.3],[6.91,0.37],[6.95,1.75],[6.99,0.7],[7.03,1.21],[7.07,0.25],[7.11,0.63],[7.15,1.2],[7.19,1.02],[7.24,0.58],[7.28,0.58],[7.32,-0.25],[7.36,-1.22],[7.41,-0.44],[7.45,-1.5],[7.49,-1.45],[7.53,-1.05],[7.57,-1.45],[7.62,-2.25],[7.66,-1.8],[7.7,-1.9],[7.74,-1.9],[7.8,-0.95],[7.83,-1.15],[7.88,1.15],[7.91,2.27],[7.95,1.5],[7.99,1.6],[8.03,1.55],[8.07,1.35],[8.11,1.45],[8.15,1.12],[8.2,0.92],[8.24,2.6],[8.28,0.3],[8.32,-0.22],[8.36,0.2],[8.41,-0.6],[8.44,-1.45],[8.49,-1.4],[8.53,-1.55],[8.57,-2.45],[8.61,-2.4],[8.66,-2.8],[8.7,-2.4],[8.74,-3.0],[8.78,-1.33],[8.82,-0.4],[8.86,0.6],[8.9,1.86],[8.94,1.5],[8.99,1.32],[9.03,0.78],[9.06,1.7],[9.1,1.32],[9.12,0.95],[9.16,1.05],[9.2,0.6],[9.24,0.05],[9.29,0.25],[9.33,-0.2],[9.37,-0.23],[9.42,-1.07],[9.46,-1.17],[9.5,-1.35],[9.54,-1.5],[9.58,-1.25],[9.62,-3.05],[9.66,-2.93],[9.7,-2.05],[9.74,-2.13],[9.79,-2.2],[9.83,-0.6],[9.87,-1.5],[9.92,-2.1],[9.96,-0.83],[9.99,-0.75],[10.04,-1.65],[10.08,-1.95],[10.12,-0.68],[10.16,0.15],[10.2,3.4],[10.24,4.82],[10.29,5.3],[10.33,3.0],[10.37,1.8],[10.42,2.0],[10.46,0.25],[10.5,-0.2],[10.54,-0.4],[10.58,-0.75],[10.62,-1.1],[10.67,-1.46],[10.71,-2.3],[10.75,-2.58],[10.79,-0.74],[10.83,-0.66],[10.88,0.18],[10.92,-0.05],[10.96,0.6],[11.0,0.75],[11.03,1.0],[11.08,1.0],[11.12,1.32],[11.16,1.05],[11.2,1.85],[11.24,0.75],[11.28,1.33],[11.32,0.5],[11.38,-0.1],[11.41,-0.15],[11.45,-0.5],[11.5,-0.97],[11.54,-1.75],[11.58,-1.9],[11.62,-1.68],[11.67,-1.33],[11.7,-1.4],[11.75,-0.4],[11.79,-0.78],[11.83,-0.42],[11.88,-0.62],[11.92,1.2],[11.96,0.15],[12.0,0.58],[12.03,1.35],[12.08,1.0],[12.12,1.6],[12.16,1.2],[12.21,0.78],[12.25,0.15],[12.29,1.32],[12.33,1.52],[12.37,0.15],[12.41,-0.65],[12.45,-2.4],[12.49,-0.5],[12.53,-1.95],[12.58,-0.55],[12.62,-0.67],[12.66,-1.45],[12.7,-1.58],[12.75,-1.95],[12.78,-0.93],[12.83,-0.5],[12.87,0.48],[12.92,0.6],[12.96,0.7],[13.0,1.76],[13.04,1.0],[13.09,0.9],[13.13,0.67],[13.16,0.98],[13.21,0.9],[13.25,0.65],[13.29,0.55],[13.33,0.05],[13.37,-0.4],[13.41,-0.62],[13.46,-0.62],[13.49,-0.93],[13.54,-0.93],[13.58,-1.95],[13.63,-2.32],[13.67,-4.0],[13.71,-0.9],[13.75,-0.15],[13.79,0.35],[13.83,0.4],[13.87,1.33],[13.91,1.0],[13.96,1.6],[14.0,0.82]];

// ===== LAYOUT (not data) =====
const layouts = [
  {left:95.5,right:2054,top:47.5,bottom:487,yTicks:yTicks1,meas:meas1,calc:calc1,resid:resid1,
   legendY:72,leg:[127,163,171,336,377,382,522,548],titleX:112,titleY:467,titleW:397,
   dateY:535,dataY:578,ylabCY:267,ylabW:427,moonY:27,perX:609,perY:25,triY:34},
  {left:103.6,right:2058,top:663,bottom:1101,yTicks:yTicks2,meas:meas2,calc:calc2,resid:resid2,
   legendY:688,leg:[129,167,175,344,384,390,534,562],titleX:117,titleY:1082,titleW:404,
   dateY:1148,dataY:1193,ylabCY:875,ylabW:431,moonY:643,perX:612,perY:640,triY:651},
  {left:95,right:2055,top:1250,bottom:1714,yTicks:yTicks3,meas:meas3,calc:calc3,resid:resid3,
   legendY:1270,leg:[116,154,161,330,370,377,522,548],titleX:111,titleY:1694,titleW:404,
   dateY:1761,dataY:1812,ylabCY:1482,ylabW:437,moonY:1234,perX:606,perY:1226,triY:1236}
];

const NS = "http://www.w3.org/2000/svg";
const svg = document.getElementById("chart");
function mk(tag, attrs, parent){
  const e = document.createElementNS(NS, tag);
  for (const k in attrs) e.setAttribute(k, attrs[k]);
  (parent||svg).appendChild(e);
  return e;
}

layouts.forEach((L, pi) => {
  const g = mk("g", {});
  
  
  const ymax = L.yTicks[0], ymin = L.yTicks[L.yTicks.length-1];
  const xS = d => L.left + (L.right - L.left) * d / 14;
  const yS = v => L.bottom - (L.bottom - L.top) * (v - ymin) / (ymax - ymin);

  // grid
  const grid = mk("g", {}, g);
  
  
  L.yTicks.forEach(t => {
    const y = yS(t);
    mk("line", {x1:L.left, x2:L.right, y1:y, y2:y, stroke:"#b8b8b8", "stroke-width":1.3}, grid);
  });
  dateLabels.forEach((d, i) => {
    const x = xS(i);
    mk("line", {x1:x, x2:x, y1:L.top, y2:L.bottom, stroke:"#c4c4c4", "stroke-width":1.3}, grid);
  });
  // frame
  mk("rect", {x:L.left, y:L.top, width:L.right-L.left, height:L.bottom-L.top, fill:"none", stroke:"#8a8a8a", "stroke-width":1.5}, g);
  const ax = mk("line", {x1:L.left, x2:L.left, y1:L.top, y2:L.bottom, stroke:"#444", "stroke-width":1.8}, g);
  
  
  const bx = mk("line", {x1:L.left, x2:L.right, y1:L.bottom, y2:L.bottom, stroke:"#444", "stroke-width":1.8}, g);
  
  

  // y ticks
  L.yTicks.forEach(t => {
    const y = yS(t);
    mk("line", {x1:L.left-6, x2:L.left, y1:y, y2:y, stroke:"#444", "stroke-width":1.5}, g);
    const tx = mk("text", {x:L.left-13, y:y+8.5, "font-size":24, "text-anchor":"end", fill:"#111"}, g);
    tx.textContent = t < 0 ? "- " + Math.abs(t) : String(t);
    
    
  });
  // x ticks
  dateLabels.forEach((d, i) => {
    const x = xS(i);
    mk("line", {x1:x, x2:x, y1:L.bottom, y2:L.bottom+9, stroke:"#444", "stroke-width":1.5}, g);
    const tx = mk("text", {x:x, y:L.dateY, "font-size":24, "text-anchor":"middle", fill:"#111"}, g);
    tx.textContent = d;
    
    
  });
  const xt = mk("text", {x:(L.left+L.right)/2, y:L.dataY, "font-size":20, "font-weight":"bold", "text-anchor":"middle", fill:"#111"}, g);
  xt.textContent = "дата";
  
  
  const yt = mk("text", {x:0, y:0, "font-size":27, "font-weight":"bold", "text-anchor":"middle", fill:"#111",
    transform:`translate(37,${L.ylabCY}) rotate(-90)`, textLength:L.ylabW, lengthAdjust:"spacingAndGlyphs"}, g);
  yt.textContent = "земноприливная вариация, мм";
  
  

  // clip
  const cp = mk("clipPath", {id:"clip"+pi}, g);
  mk("rect", {x:L.left, y:L.top-8, width:L.right-L.left+8, height:L.bottom-L.top+16}, cp);

  // calc (model) curve: cosine interpolation between extrema
  let dPath = "";
  for (let i = 0; i < L.calc.length; i++) {
    const [t, v] = L.calc[i];
    if (i === 0) { dPath += `M${xS(t).toFixed(1)},${yS(v).toFixed(1)}`; continue; }
    const [t0, v0] = L.calc[i-1];
    for (let s = 1; s <= 14; s++) {
      const f = s / 14;
      const tt = t0 + (t - t0) * f;
      const vv = v0 + (v - v0) * (1 - Math.cos(Math.PI * f)) / 2;
      dPath += ` L${xS(tt).toFixed(1)},${yS(vv).toFixed(1)}`;
    }
  }
  const cl = mk("path", {d:dPath, fill:"none", stroke:"#3d5fa6", "stroke-width":2.2, "stroke-dasharray":"4 5", "clip-path":`url(#clip${pi})`}, g);
  
  

  // measurement line
  const mp = L.meas.map((p, i) => (i ? "L" : "M") + xS(p[0]).toFixed(1) + "," + yS(p[1]).toFixed(1)).join(" ");
  const ml = mk("path", {d:mp, fill:"none", stroke:"#000", "stroke-width":2.2, "stroke-linejoin":"round"}, g);
  
  
  const mg = mk("g", {fill:"#000"}, g);
  
  
  L.meas.forEach(p => {
    const r = mk("rect", {x:xS(p[0])-3.2, y:yS(p[1])-3.2, width:6.4, height:6.4}, mg);
    
    
  });

  // residuals
  const rg = mk("g", {fill:"#fbf7a8", stroke:"#3a3a24", "stroke-width":1.3}, g);
  
  
  L.resid.forEach(p => {
    const r = mk("rect", {x:xS(p[0])-3.5, y:yS(p[1])-3.5, width:7, height:7}, rg);
    
    
  });

  // legend
  const lg = mk("g", {}, g);
  
  
  const [a1,a2,at,b1,b2,bt,cm,ct] = L.leg, ly = L.legendY;
  mk("line", {x1:a1, x2:a2, y1:ly, y2:ly, stroke:"#000", "stroke-width":2.2}, lg);
  mk("rect", {x:(a1+a2)/2-3.2, y:ly-3.2, width:6.4, height:6.4, fill:"#000"}, lg);
  mk("line", {x1:b1, x2:b2, y1:ly, y2:ly, stroke:"#3d5fa6", "stroke-width":2.2, "stroke-dasharray":"4 5"}, lg);
  mk("rect", {x:cm-3.5, y:ly-3.5, width:7, height:7, fill:"#fbf7a8", stroke:"#3a3a24", "stroke-width":1.3}, lg);
  [[at,0],[bt,1],[ct,2]].forEach(([x, k]) => {
    const t = mk("text", {x:x, y:ly+8, "font-size":24, fill:"#111"}, lg);
    t.textContent = legendLabels[k];
    
    
  });

  // panel title
  const tt = mk("text", {x:L.titleX, y:L.titleY, "font-size":31, "font-weight":"bold", "font-style":"italic", fill:"#111", textLength:L.titleW, lengthAdjust:"spacingAndGlyphs"}, g);
  tt.textContent = panelTitles[pi];
  
  

  // sigma bracket
  const sg = mk("g", {stroke:"#000", "stroke-width":3, fill:"none"}, g);
  
  
  const sT = yS(sigmaValues[pi]), sB = yS(-sigmaValues[pi]), s0 = yS(0), bx2 = L.right + 20;
  mk("path", {d:`M${bx2-9},${sT} L${bx2},${sT} L${bx2},${sB} L${bx2-9},${sB} M${bx2-9},${s0} L${bx2},${s0}`}, sg);
  const sp = mk("text", {x:L.right+10, y:sT-12, "font-size":30, fill:"#111", style:"font-family:'Liberation Serif',serif"}, g);
  sp.textContent = "+σ";
  
  
  const sm = mk("text", {x:L.right+10, y:sB+30, "font-size":30, fill:"#111", style:"font-family:'Liberation Serif',serif"}, g);
  sm.textContent = "−σ";
  
  

  // perigee marker
  const pg = mk("text", {x:xS(perigeeDay[pi]), y:L.perY, "font-size":18, "text-anchor":"middle", fill:"#111"}, g);
  pg.textContent = "перигей";
  
  
  const px = xS(perigeeDay[pi]);
  const tri = mk("path", {d:`M${px-11},${L.triY} L${px+11},${L.triY} L${px},${L.triY+11} Z`, fill:"#000"}, g);
  
  

  // moon phases
  const hx = xS(halfMoonDay[pi]), my = L.moonY;
  const hm = mk("g", {}, g);
  
  
  mk("line", {x1:hx, x2:hx, y1:my+15, y2:L.top, stroke:"#000", "stroke-width":2}, hm);
  mk("ellipse", {cx:hx, cy:my, rx:14, ry:15, fill:"#fff", stroke:"#000", "stroke-width":2.5}, hm);
  mk("path", {d:`M${hx},${my-15} A14,15 0 0 0 ${hx},${my+15} Z`, fill:"#000"}, hm);
  const fx = xS(fullMoonDay[pi]);
  const fm = mk("g", {}, g);
  
  
  mk("line", {x1:fx, x2:fx, y1:my+15, y2:L.top, stroke:"#000", "stroke-width":2}, fm);
  mk("ellipse", {cx:fx, cy:my, rx:14, ry:15, fill:"#fff", stroke:"#000", "stroke-width":2.5}, fm);
});
</script>
</body></html>
